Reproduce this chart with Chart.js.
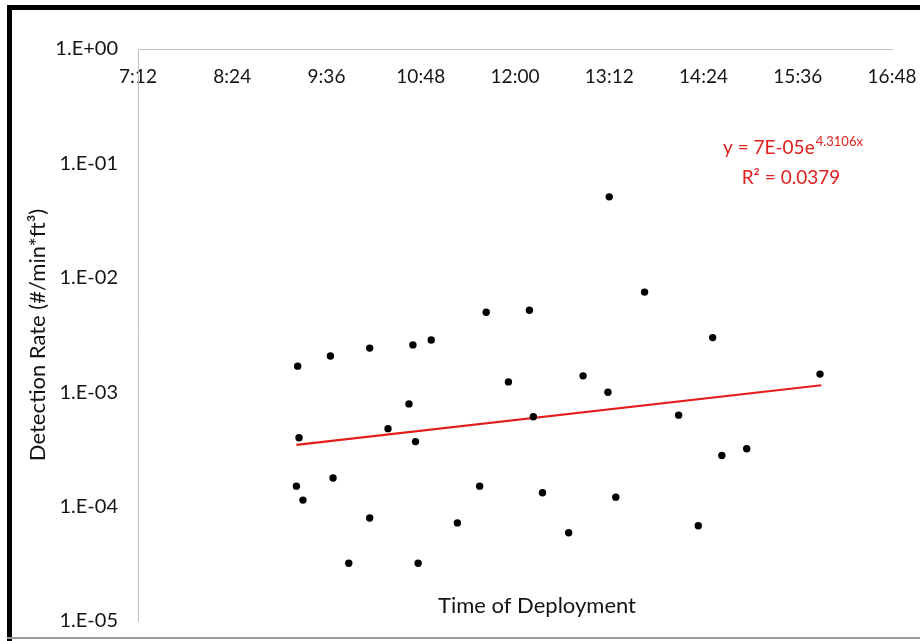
<!DOCTYPE html>
<html>
<head>
    <title>Detection Rate vs Time of Deployment</title>
    <script src="https://cdn.jsdelivr.net/npm/chart.js"></script>
    <style>
        body { margin: 0; background: #fff; }
        #wrap { position: relative; width: 920px; height: 641px; overflow: hidden; }
        .edge { position: absolute; }
    </style>
</head>
<body>
<div id="wrap">
    <canvas id="rateChart" width="920" height="641"></canvas>
    <div class="edge" style="left:7px;top:5px;width:5px;height:636px;background:#000"></div>
    <div class="edge" style="left:7px;top:5px;width:913px;height:5px;background:#000"></div>
    <div class="edge" style="left:7px;top:637px;width:913px;height:2px;background:#9a9a9a"></div>
</div>
<script>
    // deployment times (h:mm) and detection rates (#/min*ft3)
    const times = ['9:14', '9:39', '10:09', '10:42', '10:56', '10:39', '10:23', '9:15', '10:44', '9:41',
                   '9:13', '9:18', '11:33', '10:09', '11:16', '9:53', '10:46', '13:12', '13:39', '11:38',
                   '12:11', '14:31', '11:55', '12:52', '13:11', '12:14', '14:05', '14:38', '12:21', '13:17',
                   '12:41', '14:20', '15:53', '14:57'];
    const rates = [1.69e-3, 2.07e-3, 2.43e-3, 2.59e-3, 2.86e-3, 7.9e-4, 4.8e-4, 4.0e-4, 3.7e-4, 1.78e-4,
                   1.51e-4, 1.14e-4, 1.51e-4, 7.95e-5, 7.2e-5, 3.2e-5, 3.2e-5, 5.1e-2, 7.5e-3, 5.0e-3,
                   5.2e-3, 3.0e-3, 1.23e-3, 1.39e-3, 1.0e-3, 6.1e-4, 6.3e-4, 2.8e-4, 1.32e-4, 1.21e-4,
                   5.9e-5, 6.8e-5, 1.44e-3, 3.2e-4];

    // exponential trendline end points as drawn
    const trendTimes = ['9:13', '15:54'];
    const trendRates = [3.46e-4, 1.15e-3];

    const xTicks = ['7:12', '8:24', '9:36', '10:48', '12:00', '13:12', '14:24', '15:36', '16:48'];
    const yTicks = [1e-5, 1e-4, 1e-3, 1e-2, 1e-1, 1];
    const yTickLabels = ['1.E-05', '1.E-04', '1.E-03', '1.E-02', '1.E-01', '1.E+00'];

    const toMin = t => { const p = t.split(':'); return +p[0] * 60 + +p[1]; };
    const fmtMin = m => Math.floor(m / 60) + ':' + String(Math.round(m % 60)).padStart(2, '0');

    const FONT = 'Lato';
    const TXT = '#141414';
    const RED = '#e31c1c';

    const extraText = {
        id: 'extraText',
        afterDraw(chart) {
            const ctx = chart.ctx;
            ctx.save();
            ctx.fillStyle = TXT;
            ctx.font = '22px ' + FONT;
            ctx.textAlign = 'center';
            ctx.textBaseline = 'middle';
            ctx.fillText('Time of Deployment', 537, 606);

            ctx.fillStyle = '#e0201e';
            ctx.textAlign = 'left';
            ctx.font = '19px ' + FONT;
            const base = 'y = 7E-05e';
            ctx.fillText(base, 723, 148);
            const w = ctx.measureText(base).width;
            ctx.font = '13px ' + FONT;
            ctx.fillText('4.3106x', 723 + w + 1, 142);
            ctx.font = '19px ' + FONT;
            ctx.textAlign = 'center';
            ctx.fillText('R\u00B2 = 0.0379', 791, 178);
            ctx.restore();
        }
    };

    new Chart(document.getElementById('rateChart'), {
        type: 'scatter',
        data: {
            datasets: [{
                label: 'Detection Rate',
                data: times.map((t, i) => ({ x: toMin(t), y: rates[i] })),
                backgroundColor: '#000',
                borderColor: '#000',
                pointRadius: 3.7,
                pointBorderWidth: 0
            }, {
                label: 'Expon. trend',
                data: trendTimes.map((t, i) => ({ x: toMin(t), y: trendRates[i] })),
                showLine: true,
                borderColor: RED,
                borderWidth: 2.2,
                pointRadius: 0
            }]
        },
        options: {
            responsive: false,
            animation: false,
            layout: { padding: { left: 0, top: 49, right: 28, bottom: 20 } },
            plugins: { legend: { display: false }, tooltip: { enabled: false } },
            scales: {
                x: {
                    type: 'linear',
                    position: { y: 1 },
                    min: toMin(xTicks[0]),
                    max: toMin(xTicks[xTicks.length - 1]),
                    afterBuildTicks: s => { s.ticks = xTicks.map(t => ({ value: toMin(t) })); },
                    afterFit: s => { s.paddingLeft = 0; s.paddingRight = 0; },
                    grid: { display: false, drawTicks: false },
                    border: { color: '#c0c0c0', width: 1 },
                    ticks: {
                        autoSkip: false, maxRotation: 0, padding: 16,
                        color: TXT, font: { family: FONT, size: 19 },
                        callback: v => fmtMin(v)
                    }
                },
                y: {
                    type: 'logarithmic',
                    min: yTicks[0],
                    max: yTicks[yTicks.length - 1],
                    afterBuildTicks: s => { s.ticks = yTicks.map(v => ({ value: v })); },
                    afterFit: s => { s.width = 138; s.paddingTop = 0; s.paddingBottom = 0; },
                    grid: { display: false, drawTicks: false },
                    border: { color: '#c0c0c0', width: 1 },
                    ticks: {
                        padding: 20, color: TXT, font: { family: FONT, size: 20 },
                        callback: v => yTickLabels[yTicks.indexOf(v)]
                    },
                    title: {
                        display: true,
                        text: 'Detection Rate (#/min*ft\u00B3)',
                        color: TXT,
                        font: { family: FONT, size: 22 },
                        padding: { top: 25, bottom: 0 }
                    }
                }
            }
        },
        plugins: [extraText]
    });
</script>
</body>
</html>
